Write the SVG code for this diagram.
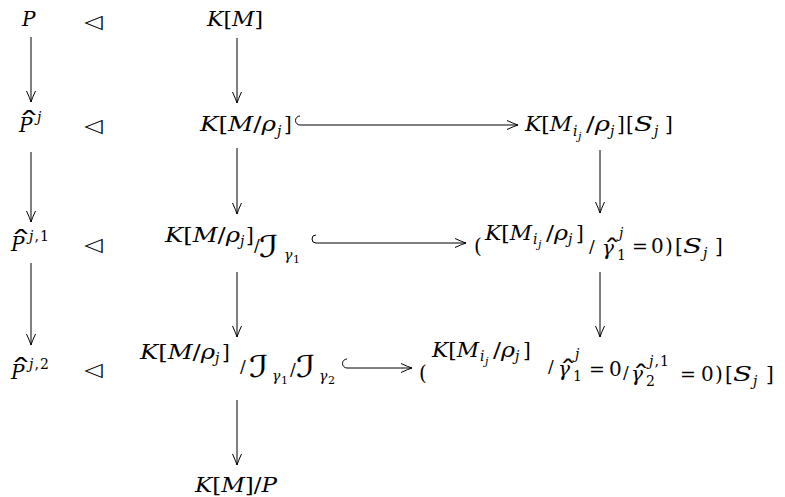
<svg xmlns="http://www.w3.org/2000/svg" width="785" height="497" viewBox="0 0 785 497">
<style>
text { font-family: "DejaVu Serif", "DejaVu Sans", serif; font-size: 20px; fill: #000; }
.i { font-style: italic; }
.u { font-style: normal; }
.s { font-size: 14px; }
.ss { font-size: 11px; }
.m { font-size: 17px; }
.eq { font-size: 19px; }
.cal { font-family: "DejaVu Sans", sans-serif; font-size: 30px; }
.tri { font-family: "DejaVu Sans", sans-serif; font-size: 24px; }
.hat { text-anchor: middle; font-size: 18px; }
.l { stroke: #000; stroke-width: 1; fill: none; }
</style>
<defs>
<marker id="ah" markerUnits="userSpaceOnUse" viewBox="-12 -6 13 12" refX="0" refY="0" markerWidth="13" markerHeight="12" orient="auto">
<path d="M-11,-4.5 Q-4,-1.2 0,0 Q-4,1.2 -11,4.5" fill="none" stroke="#000" stroke-width="1"/>
</marker>
</defs>

<g id="connectors">
<line class="l" x1="31" y1="37" x2="31" y2="102" marker-end="url(#ah)"/>
<line class="l" x1="237" y1="38" x2="237" y2="103" marker-end="url(#ah)"/>
<line class="l" x1="31" y1="152" x2="31" y2="222" marker-end="url(#ah)"/>
<line class="l" x1="237" y1="148" x2="237" y2="214" marker-end="url(#ah)"/>
<line class="l" x1="600" y1="150" x2="600" y2="213" marker-end="url(#ah)"/>
<path class="l" d="M300,116 A4.5,4.5 0 0 0 300,125 L518,125" marker-end="url(#ah)"/>
<line class="l" x1="31" y1="263" x2="31" y2="345" marker-end="url(#ah)"/>
<line class="l" x1="237" y1="272" x2="237" y2="337" marker-end="url(#ah)"/>
<line class="l" x1="600" y1="272" x2="600" y2="337" marker-end="url(#ah)"/>
<path class="l" d="M316,235 A4,4 0 0 0 316,243 L466,243" marker-end="url(#ah)"/>
<path class="l" d="M347,359 A4.5,4.5 0 0 0 347,368 L412,368" marker-end="url(#ah)"/>
<line class="l" x1="237" y1="400" x2="237" y2="465" marker-end="url(#ah)"/>
</g>

<g id="n-P"><text class="i" x="22" y="26">P</text></g>
<g id="t-1"><text class="tri" transform="translate(84,28) scale(1,0.8)">◁</text></g>
<g id="n-KM"><text class="i" x="207" y="26" textLength="56" lengthAdjust="spacingAndGlyphs">K<tspan class="u">[</tspan>M<tspan class="u">]</tspan></text></g>

<g id="n-Pj">
<text class="i" x="19" y="132">P</text>
<text class="hat" transform="translate(29,132) scale(2.4,1.6)">ˆ</text>
<text class="i s" x="37" y="122">j</text>
</g>
<g id="t-2"><text class="tri" transform="translate(84,132) scale(1,0.8)">◁</text></g>
<g id="n-KMrho">
<text class="i" x="200" y="131" textLength="76" lengthAdjust="spacingAndGlyphs">K<tspan class="u">[</tspan>M<tspan class="u">/</tspan>ρ</text>
<text class="i s" x="277" y="136">j</text>
<text x="284" y="131">]</text>
</g>
<g id="n-KMij">
<text class="i" x="525" y="131" textLength="47" lengthAdjust="spacingAndGlyphs">K<tspan class="u">[</tspan>M</text>
<text class="i s" x="573" y="136">i</text><text class="i ss" x="578" y="140">j</text>
<text class="i" x="586" y="131" textLength="24" lengthAdjust="spacingAndGlyphs"><tspan class="u">/</tspan>ρ</text>
<text class="i s" x="610" y="136">j</text>
<text x="617" y="131">]</text>
<text x="626" y="131">[</text>
<text class="i" x="634" y="131" textLength="19" lengthAdjust="spacingAndGlyphs">S</text>
<text class="i s" x="654" y="136">j</text>
<text x="665" y="131">]</text>
</g>

<g id="n-Pj1">
<text class="i" x="11" y="251">P</text>
<text class="hat" transform="translate(21,251) scale(2.4,1.6)">ˆ</text>
<text class="i s" x="29" y="241" textLength="20" lengthAdjust="spacing">j<tspan class="u">,1</tspan></text>
</g>
<g id="t-3"><text class="tri" transform="translate(84,251) scale(1,0.8)">◁</text></g>
<g id="n-quot1">
<text class="i" x="165" y="242" textLength="75" lengthAdjust="spacingAndGlyphs">K<tspan class="u">[</tspan>M<tspan class="u">/</tspan>ρ</text>
<text class="i s" x="240" y="246">j</text>
<text x="246" y="242">]</text>
<text class="m" x="254" y="251">/</text>
<text class="cal" transform="translate(259,257) scale(1.4,1)">ℐ</text>
<text class="i s" x="284" y="260">γ</text>
<text class="ss" x="293" y="263">1</text>
</g>
<g id="n-paren1">
<text x="474" y="253">(</text>
<text class="i" x="485" y="240" textLength="47" lengthAdjust="spacingAndGlyphs">K<tspan class="u">[</tspan>M</text>
<text class="i s" x="533" y="244">i</text><text class="i ss" x="538" y="248">j</text>
<text class="i" x="546" y="240" textLength="22" lengthAdjust="spacingAndGlyphs"><tspan class="u">/</tspan>ρ</text>
<text class="i s" x="568" y="244">j</text>
<text x="576" y="240">]</text>
<text class="m" x="589" y="252">/</text>
<text class="i" x="602" y="255">γ</text>
<text class="hat" transform="translate(612,257) scale(1.9,1.3)">ˆ</text>
<text class="s" x="617" y="260">1</text>
<text class="i s" x="619" y="238">j</text>
<text class="eq" x="632" y="253">=</text>
<text x="651" y="253">0</text>
<text x="665" y="253">)</text>
<text x="675" y="253">[</text>
<text class="i" x="683" y="253" textLength="19" lengthAdjust="spacingAndGlyphs">S</text>
<text class="i s" x="703" y="258">j</text>
<text x="715" y="253">]</text>
</g>

<g id="n-Pj2">
<text class="i" x="11" y="379">P</text>
<text class="hat" transform="translate(21,379) scale(2.4,1.6)">ˆ</text>
<text class="i s" x="29" y="369" textLength="20" lengthAdjust="spacing">j<tspan class="u">,2</tspan></text>
</g>
<g id="t-4"><text class="tri" transform="translate(84,376) scale(1,0.8)">◁</text></g>
<g id="n-quot2">
<text class="i" x="140" y="359" textLength="75" lengthAdjust="spacingAndGlyphs">K<tspan class="u">[</tspan>M<tspan class="u">/</tspan>ρ</text>
<text class="i s" x="215" y="363">j</text>
<text x="222" y="359">]</text>
<text class="m" x="240" y="372">/</text>
<text class="cal" transform="translate(249,377) scale(1.4,1)">ℐ</text>
<text class="i s" x="272" y="381">γ</text>
<text class="ss" x="281" y="384">1</text>
<text class="m" x="290" y="375">/</text>
<text class="cal" transform="translate(296,377) scale(1.4,1)">ℐ</text>
<text class="i s" x="319" y="381">γ</text>
<text class="ss" x="328" y="384">2</text>
</g>
<g id="n-paren2">
<text x="419" y="380">(</text>
<text class="i" x="432" y="357" textLength="47" lengthAdjust="spacingAndGlyphs">K<tspan class="u">[</tspan>M</text>
<text class="i s" x="480" y="361">i</text><text class="i ss" x="485" y="365">j</text>
<text class="i" x="493" y="357" textLength="22" lengthAdjust="spacingAndGlyphs"><tspan class="u">/</tspan>ρ</text>
<text class="i s" x="515" y="361">j</text>
<text x="523" y="357">]</text>
<text class="m" x="548" y="372">/</text>
<text class="i" x="558" y="376">γ</text>
<text class="hat" transform="translate(568,378) scale(1.9,1.3)">ˆ</text>
<text class="s" x="573" y="381">1</text>
<text class="i s" x="575" y="359">j</text>
<text class="eq" x="589" y="376">=</text>
<text x="609" y="376">0</text>
<text class="m" x="623" y="378">/</text>
<text class="i" x="631" y="381">γ</text>
<text class="hat" transform="translate(641,383) scale(1.9,1.3)">ˆ</text>
<text class="s" x="646" y="386">2</text>
<text class="i s" x="649" y="366" textLength="20" lengthAdjust="spacing">j<tspan class="u">,1</tspan></text>
<text class="eq" x="680" y="381">=</text>
<text x="701" y="381">0</text>
<text x="715" y="381">)</text>
<text x="725" y="381">[</text>
<text class="i" x="733" y="381" textLength="19" lengthAdjust="spacingAndGlyphs">S</text>
<text class="i s" x="753" y="386">j</text>
<text x="766" y="381">]</text>
</g>

<g id="n-KMP"><text class="i" x="195" y="492" textLength="82" lengthAdjust="spacingAndGlyphs">K<tspan class="u">[</tspan>M<tspan class="u">]/</tspan>P</text></g>
</svg>
